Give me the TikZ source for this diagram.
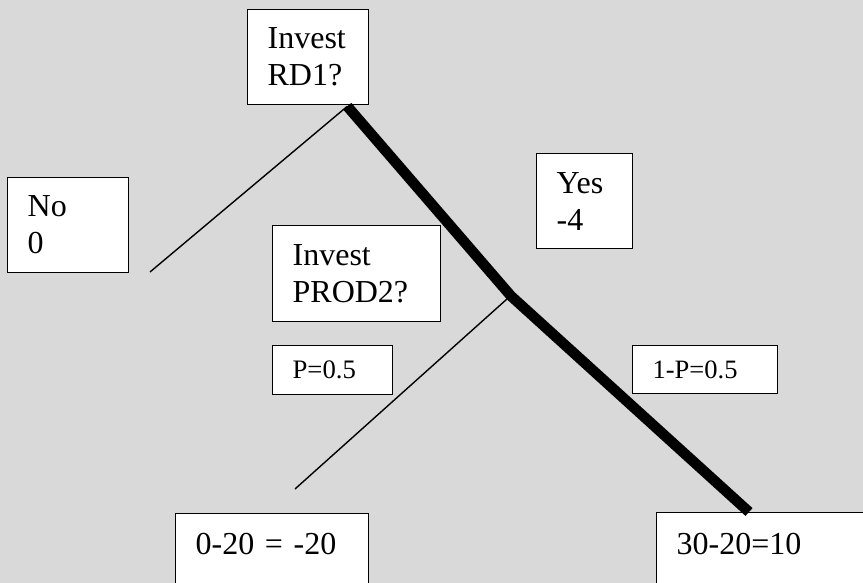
\documentclass[tikz,border=0pt]{standalone}
\usepackage{fontspec}
\setmainfont{Liberation Serif}
\usetikzlibrary{positioning,calc}
\definecolor{bggray}{RGB}{217,217,217}

\begin{document}
\begin{tikzpicture}[x=1pt,y=-1pt,every node/.append style={anchor=north west,inner ysep=0pt}]
    \tikzstyle{box}=[draw=black, fill=white, line width=1.3pt, inner xsep=20pt, align=left, font=\fontsize{32}{37}\selectfont]
    \tikzstyle{branch}=[draw=black, line width=1.4pt]
    \tikzstyle{chosen}=[draw=black, line width=10.5pt, line cap=butt]
    \useasboundingbox (0,0) rectangle (863,583);
    \fill[bggray] (0,0) rectangle (863,583);
    % decision and chance boxes
    \node[box, text width=81pt, minimum height=95pt] (rd1) at (247,9) {Invest\\RD1?};
    \node[box, text width=81pt, minimum height=95pt] (no) at (7,177) {No\\0};
    \node[box, text width=56pt, minimum height=95pt] (yes) at (536,153) {Yes\\-4};
    \node[box, text width=128pt, minimum height=96pt] (prod2) at (272,225) {Invest\\PROD2?};
    \node[box, text width=80pt, minimum height=49pt, font=\fontsize{26.7}{30}\selectfont] (pa) at (272,345) {P=0.5};
    \node[box, text width=105pt, minimum height=48pt, font=\fontsize{26.5}{30}\selectfont] (pb) at (632,345) {1-P=0.5};
    % pay-offs
    \node[box, text width=153pt, text height=41pt, text depth=60pt] (low) at (175,513) {0-20 = -20};
    \node[box, text width=210pt, text height=42pt, text depth=60pt] (high) at (656,512) {30-20=10};
    % tree
    \coordinate (root) at ([xshift=-22pt,yshift=-1pt]rd1.south east);
    \coordinate (chance) at (511,296);
    \coordinate (noend) at (150,272);
    \coordinate (lowend) at (295,489);
    \coordinate (highend) at ([xshift=93pt]high.north west);
    \draw[branch] (noend) -- (root);
    \draw[branch] (lowend) -- ($(chance)+(-4,3)$);
    \draw[chosen] (root) -- (chance) -- (highend);
\end{tikzpicture}
\end{document}
